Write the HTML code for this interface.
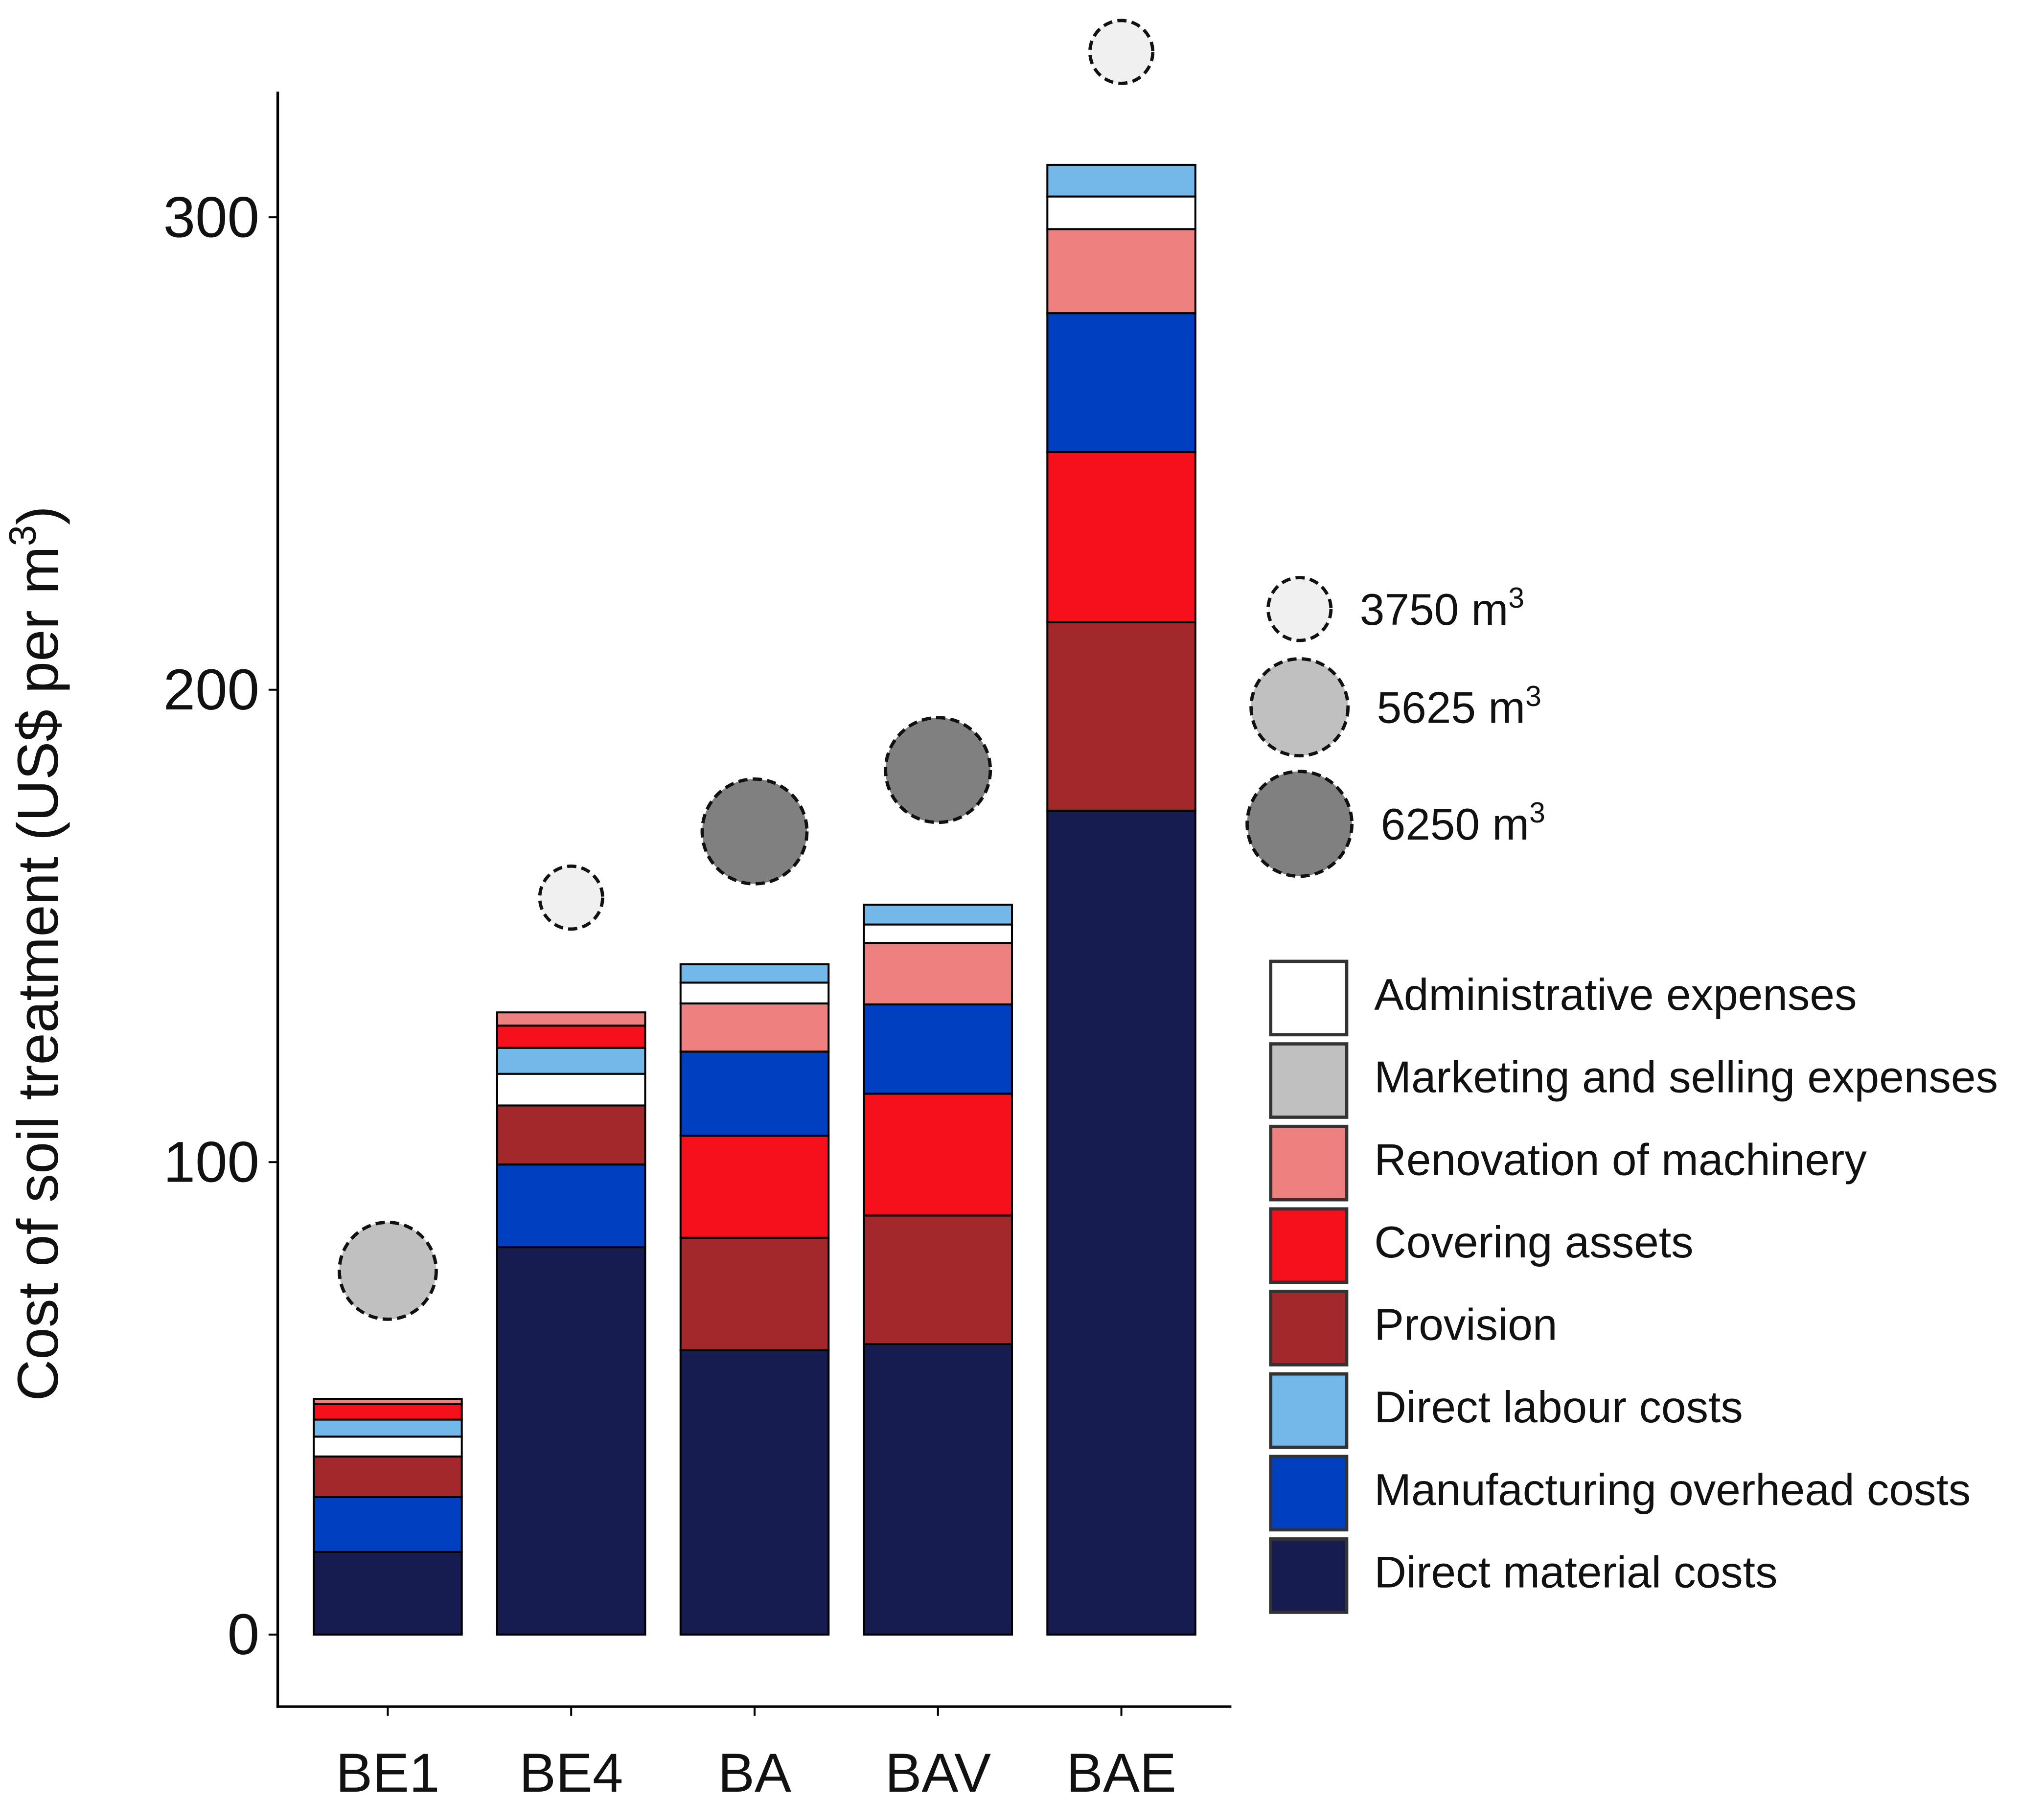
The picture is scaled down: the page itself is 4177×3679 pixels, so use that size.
<!DOCTYPE html>
<html><head><meta charset="utf-8"><style>html,body{margin:0;padding:0;background:#fff}svg{display:block}text{font-family:"Liberation Sans",sans-serif}</style></head>
<body>
<svg id="chart" width="4177" height="3679" viewBox="0 0 1560.3 1374.3" xmlns="http://www.w3.org/2000/svg"></svg>
<script>
const categories = ["BE1","BE4","BA","BAV","BAE"];
const material = [17.5, 82, 60.2, 61.5, 174.4];
const overhead = [11.6, 17.5, 17.8, 18.9, 29.4];
const labour = [3.6, 5.5, 3.9, 4.2, 6.7];
const provision = [8.6, 12.5, 23.8, 27.2, 39.9];
const covering = [3.3, 4.7, 21.6, 25.8, 36];
const renovation = [1.1, 2.8, 10.2, 13, 17.8];
const admin = [4.2, 6.7, 4.4, 3.9, 6.9];
const bubbleValues = [77, 156, 170, 183, 335];
const bubbleVolumes = [5625, 3750, 6250, 6250, 3750];
const yTicks = [0, 100, 200, 300];
const legendVolumes = [3750, 5625, 6250];

const svg = document.getElementById('chart');
const NS = 'http://www.w3.org/2000/svg';
function el(t, a, p){const e=document.createElementNS(NS,t);for(const k in a)e.setAttribute(k,a[k]);(p||svg).appendChild(e);return e;}
const y = v => 1248 - v*3.607;
const xc = i => 296 + i*140;
const bw = 113;
const colors = {material:"#161c50", overhead:"#0040c0", labour:"#74b8ea", provision:"#a3282b", covering:"#f5101c", renovation:"#ef8080", admin:"#ffffff", marketing:"#c0c0c0"};
const series = {material, overhead, labour, provision, covering, renovation, admin};
const orders = [
 ["material","overhead","provision","admin","labour","covering","renovation"],
 ["material","overhead","provision","admin","labour","covering","renovation"],
 ["material","provision","covering","overhead","renovation","admin","labour"],
 ["material","provision","covering","overhead","renovation","admin","labour"],
 ["material","provision","covering","overhead","renovation","admin","labour"]];
const volColor = {3750:"#f0f0f0",5625:"#c0c0c0",6250:"#808080"};
const volR = {3750:24,5625:37,6250:40};

let ax = el('line',{x1:212,y1:70,x2:212,y2:1304,stroke:'#000','stroke-width':2});


ax = el('line',{x1:211,y1:1303,x2:940,y2:1303,stroke:'#000','stroke-width':2});


yTicks.forEach(v=>{
  const t=el('line',{x1:205,y1:y(v),x2:212,y2:y(v),stroke:'#000','stroke-width':1.5});
  
  
  const l=el('text',{x:198,y:y(v)+15,'font-size':44,'text-anchor':'end',fill:'#111'});
  l.textContent=v;
  
  
});
const yt=el('text',{x:0,y:0,'font-size':44,'text-anchor':'middle',fill:'#111',transform:'translate(44,728) rotate(-90)'});
yt.innerHTML='Cost of soil treatment (US$ per m<tspan font-size="29" dy="-17">3</tspan><tspan dy="17">)</tspan>';



categories.forEach((c,i)=>{
  let base=0;
  orders[i].forEach(s=>{
    const v=series[s][i];
    const r=el('rect',{x:xc(i)-bw/2,y:y(base+v),width:bw,height:y(base)-y(base+v),fill:colors[s],stroke:'#000','stroke-width':1.5});
    
    
    base+=v;
  });
  const t=el('line',{x1:xc(i),y1:1303,x2:xc(i),y2:1310,stroke:'#000','stroke-width':1.5});
  
  
  const l=el('text',{x:xc(i),y:1368,'font-size':42,'text-anchor':'middle',fill:'#111'});
  l.textContent=c;
  
  
  const vol=bubbleVolumes[i];
  const b=el('circle',{cx:xc(i),cy:y(bubbleValues[i]),r:volR[vol],fill:volColor[vol],stroke:'#111','stroke-width':2.5,'stroke-dasharray':'7 4'});
  
  
});

const ly=[465,540,629];
legendVolumes.forEach((v,i)=>{
  const b=el('circle',{cx:992,cy:ly[i],r:volR[v],fill:volColor[v],stroke:'#111','stroke-width':2.5,'stroke-dasharray':'7 4'});
  
  
  const t=el('text',{x:992+volR[v]+22,y:ly[i]+12,'font-size':34,fill:'#111'});
  t.innerHTML=v+' m<tspan font-size="22" dy="-13">3</tspan>';
  
  
});

const legendLabels=["Administrative expenses","Marketing and selling expenses","Renovation of machinery","Covering assets","Provision","Direct labour costs","Manufacturing overhead costs","Direct material costs"];
const legendKeys=["admin","marketing","renovation","covering","provision","labour","overhead","material"];
legendKeys.forEach((k,i)=>{
  const top=734+i*63;
  const r=el('rect',{x:970,y:top,width:58,height:56,fill:colors[k],stroke:'#333','stroke-width':2.5});
  
  
  const t=el('text',{x:1049,y:top+37,'font-size':34,fill:'#111'});
  t.textContent=legendLabels[i];
  
  
});
</script>
</body></html>
